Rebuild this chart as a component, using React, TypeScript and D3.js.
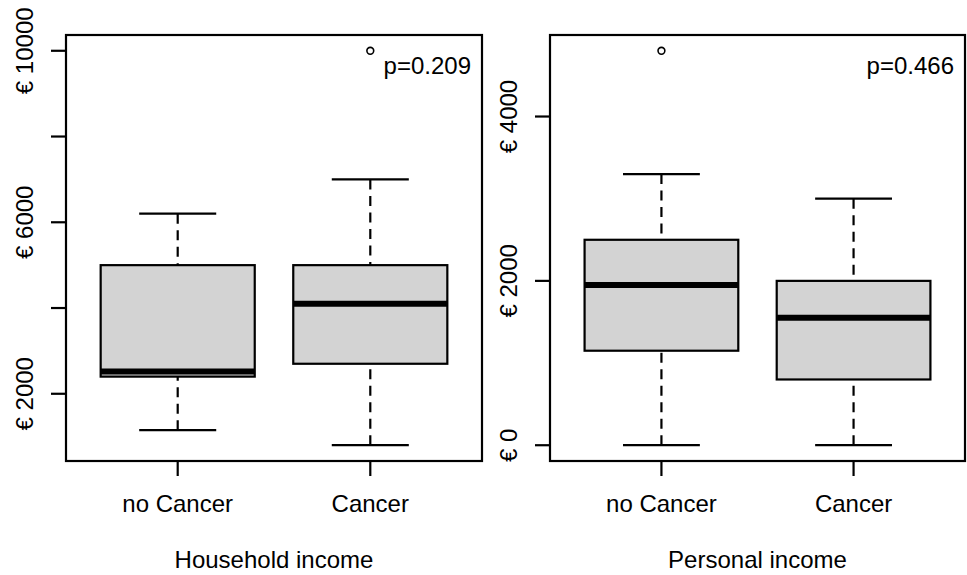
import * as d3 from "d3";

// categories shared by both panels
const groups = ["no Cancer", "Cancer"];

// household income: [lower whisker, Q1, median, Q3, upper whisker]
const householdStats = [
  [1150, 2400, 2520, 5000, 6200],
  [800, 2700, 4100, 5000, 7000],
];
const householdOutliers = [[], [10000]];
const householdTicks = [2000, 4000, 6000, 8000, 10000];
const householdTickLabels = [2000, 6000, 10000];

// personal income
const personalStats = [
  [0, 1150, 1950, 2500, 3300],
  [0, 800, 1550, 2000, 3000],
];
const personalOutliers = [[4800], []];
const personalTicks = [0, 2000, 4000];
const personalTickLabels = [0, 2000, 4000];

const W = 967;
const H = 575;
const TOP = 35;
const BOTTOM = 461;
const FONT = "'Liberation Sans', Arial, Helvetica, sans-serif";
const FS = 24;

type PanelProps = {
  left: number;
  right: number;
  stats: number[][];
  outliers: number[][];
  ticks: number[];
  tickLabels: number[];
  title: string;
  pValue: string;
};

function Panel({ left, right, stats, outliers, ticks, tickLabels, title, pValue }: PanelProps) {
  // R-style 4% padding on the data range
  const all = stats.flat().concat(outliers.flat());
  const lo = d3.min(all) as number;
  const hi = d3.max(all) as number;
  const pad = (hi - lo) * 0.04;
  const y = d3.scaleLinear().domain([lo - pad, hi + pad]).range([BOTTOM, TOP]);
  const x = d3.scaleLinear().domain([0.42, 2.58]).range([left, right]);
  const unit = x(1) - x(0);
  const boxHalf = 0.4 * unit;
  const capHalf = 0.2 * unit;

  return (
    <g>
      {stats.map((s, i) => {
        const cx = x(i + 1);
        const [wl, q1, med, q3, wh] = s;
        return (
          <g key={i}>
            {/* whiskers drawn from the end toward the box, like R does */}
            <line x1={cx} x2={cx} y1={y(wh)} y2={y(q3)} stroke="#000" strokeWidth={2.2} strokeDasharray="10,6.5" />
            <line x1={cx} x2={cx} y1={y(wl)} y2={y(q1)} stroke="#000" strokeWidth={2.2} strokeDasharray="10,6.5" />
            <line x1={cx - capHalf} x2={cx + capHalf} y1={y(wh)} y2={y(wh)} stroke="#000" strokeWidth={2.2} />
            <line x1={cx - capHalf} x2={cx + capHalf} y1={y(wl)} y2={y(wl)} stroke="#000" strokeWidth={2.2} />
            <rect x={cx - boxHalf} y={y(q3)} width={boxHalf * 2} height={y(q1) - y(q3)} fill="#d3d3d3" stroke="#000" strokeWidth={2.2} />
            <line x1={cx - boxHalf} x2={cx + boxHalf} y1={y(med)} y2={y(med)} stroke="#000" strokeWidth={6} />
            {outliers[i].map((o, j) => (
              <circle key={j} cx={cx} cy={y(o)} r={3.4} fill="none" stroke="#000" strokeWidth={1.6} />
            ))}
          </g>
        );
      })}
      <rect x={left} y={TOP} width={right - left} height={BOTTOM - TOP} fill="none" stroke="#000" strokeWidth={2.2} />
      {ticks.map((t) => (
        <line key={t} x1={left - 15} x2={left} y1={y(t)} y2={y(t)} stroke="#000" strokeWidth={2.2} />
      ))}
      {tickLabels.map((t) => (
        <text key={t} transform={`translate(${left - 33},${y(t)}) rotate(-90)`} textAnchor="middle" fontSize={FS} fontFamily={FONT}>
          {`€ ${t}`}
        </text>
      ))}
      {groups.map((g, i) => (
        <g key={g}>
          <line x1={x(i + 1)} x2={x(i + 1)} y1={BOTTOM} y2={BOTTOM + 15} stroke="#000" strokeWidth={2.2} />
          <text x={x(i + 1)} y={512} textAnchor="middle" fontSize={FS} fontFamily={FONT}>{g}</text>
        </g>
      ))}
      <text x={(left + right) / 2} y={568} textAnchor="middle" fontSize={FS} fontFamily={FONT}>{title}</text>
      <text x={right - 11} y={74} textAnchor="end" fontSize={FS} fontFamily={FONT}>{pValue}</text>
    </g>
  );
}

export default function App() {
  return (
    <svg width={W} height={H} style={{ position: "absolute", left: 0, top: 0, background: "#fff" }}>
      <rect width={W} height={H} fill="#fff" />
      <Panel left={66} right={482} stats={householdStats} outliers={householdOutliers}
        ticks={householdTicks} tickLabels={householdTickLabels} title="Household income" pValue="p=0.209" />
      <Panel left={550} right={965} stats={personalStats} outliers={personalOutliers}
        ticks={personalTicks} tickLabels={personalTickLabels} title="Personal income" pValue="p=0.466" />
    </svg>
  );
}
